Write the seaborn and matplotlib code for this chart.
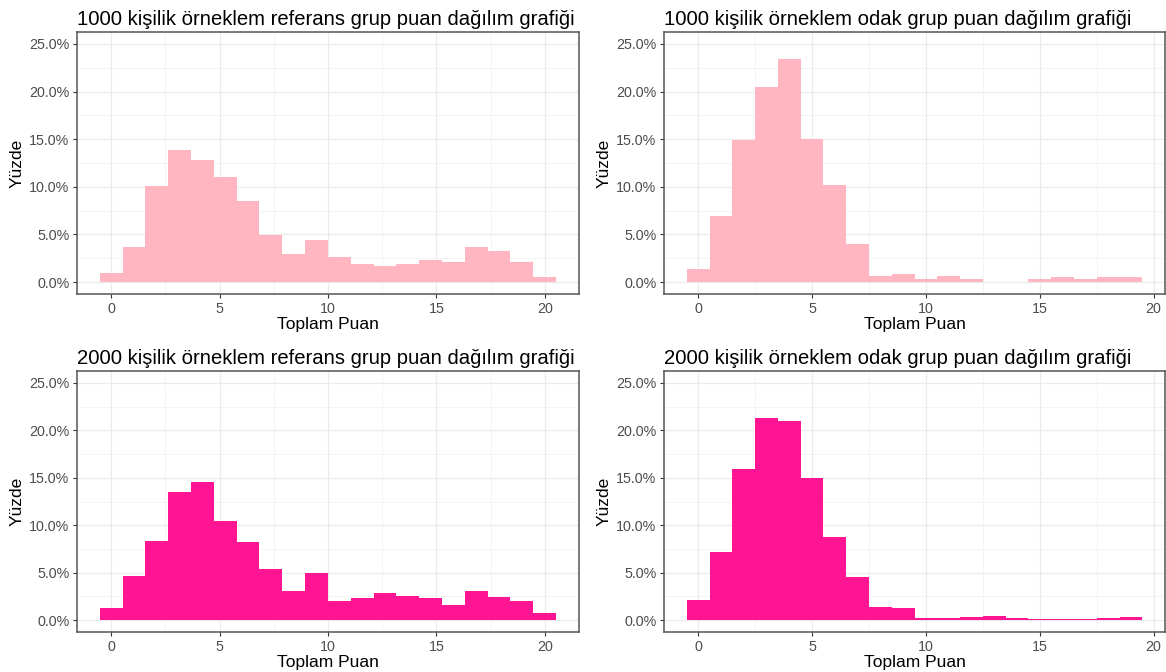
import numpy as np
import pandas as pd
import seaborn as sns
import matplotlib.pyplot as plt
from matplotlib.ticker import FuncFormatter, MultipleLocator

# percentages, one value per score
ref_1000 = [1.0, 3.7, 10.1, 13.9, 12.8, 11.0, 8.5, 4.9, 3.0, 4.4,
            2.6, 1.9, 1.7, 1.9, 2.3, 2.1, 3.7, 3.3, 2.1, 0.5]
odak_1000 = [1.4, 6.9, 14.9, 20.5, 23.4, 15.0, 10.2, 4.0, 0.6, 0.8,
             0.3, 0.6, 0.3, 0.0, 0.0, 0.3, 0.5, 0.3, 0.5, 0.5]
ref_2000 = [1.25, 4.6, 8.3, 13.55, 14.6, 10.4, 8.2, 5.4, 3.05, 5.0,
            2.0, 2.3, 2.85, 2.5, 2.3, 1.6, 3.1, 2.4, 2.0, 0.75]
odak_2000 = [2.1, 7.2, 15.95, 21.35, 21.0, 15.0, 8.75, 4.5, 1.35, 1.25,
             0.2, 0.2, 0.3, 0.45, 0.2, 0.1, 0.1, 0.1, 0.2, 0.3]

# score values behind each bar (ref: 0..20 in 20 bins, odak: 0..19)
ref_scores = np.linspace(0, 20, 20)
odak_scores = np.arange(0, 20)

titles = ["1000 kişilik örneklem referans grup puan dağılım grafiği",
          "1000 kişilik örneklem odak grup puan dağılım grafiği",
          "2000 kişilik örneklem referans grup puan dağılım grafiği",
          "2000 kişilik örneklem odak grup puan dağılım grafiği"]

light_pink = "#FFB6C1"
deep_pink = "#FF1493"

sns.set_theme(style="white")
plt.rcParams['font.family'] = ['Liberation Sans', 'DejaVu Sans']

fig = plt.figure(figsize=(11.66, 6.72), dpi=100)

panels = [
    ([0.0660, 0.5625, 0.4305, 0.3899], ref_scores, ref_1000, light_pink, 20),
    ([0.5695, 0.5625, 0.4297, 0.3899], odak_scores, odak_1000, light_pink, 19),
    ([0.0660, 0.0595, 0.4305, 0.3884], ref_scores, ref_2000, deep_pink, 20),
    ([0.5695, 0.0595, 0.4297, 0.3884], odak_scores, odak_2000, deep_pink, 19),
]

for (pos, scores, pct, color, xmax), title in zip(panels, titles):
    ax = fig.add_axes(pos)
    df = pd.DataFrame({"puan": scores, "yuzde": pct})
    half = xmax / 19 / 2
    sns.histplot(data=df, x="puan", weights="yuzde", bins=20,
                 binrange=(-half, xmax + half), color=color, alpha=1,
                 edgecolor="none", linewidth=0, ax=ax, zorder=2)

    span = xmax + 2 * half
    ax.set_xlim(-half - 0.05 * span, xmax + half + 0.05 * span)
    ax.set_ylim(-1.25, 26.25)
    ax.xaxis.set_major_locator(MultipleLocator(5))
    ax.xaxis.set_minor_locator(MultipleLocator(2.5))
    ax.yaxis.set_major_locator(MultipleLocator(5))
    ax.yaxis.set_minor_locator(MultipleLocator(2.5))
    ax.yaxis.set_major_formatter(FuncFormatter(lambda v, p: f"{v:.1f}%"))

    ax.set_axisbelow(True)
    ax.grid(which="major", color="#EBEBEB", linewidth=0.9, zorder=0)
    ax.grid(which="minor", color="#F2F2F2", linewidth=0.6, zorder=0)
    for s in ax.spines.values():
        s.set_color("#555555")
        s.set_linewidth(1.1)

    ax.tick_params(axis="both", which="major", length=3, width=0.8,
                   color="#333333", labelcolor="#4D4D4D", labelsize=10.3,
                   bottom=True, left=True, pad=2.5)
    ax.tick_params(axis="both", which="minor", length=0)

    ax.set_xlabel("Toplam Puan", fontsize=12.5, color="black", labelpad=1)
    ax.set_ylabel("Yüzde", fontsize=12.5, color="black", labelpad=3)
    ax.set_title(title, fontsize=14.6, loc="left", color="black", pad=5)

fig.savefig("out.png", dpi=100)
